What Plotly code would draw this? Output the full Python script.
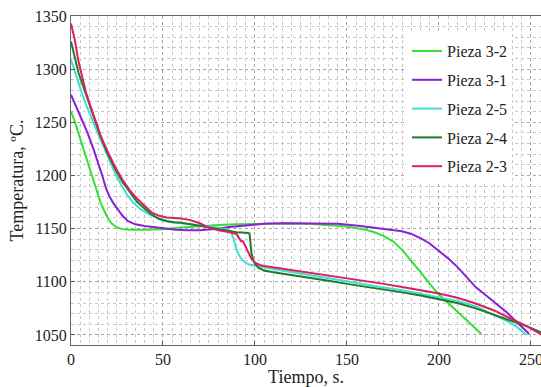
import plotly.graph_objects as go

# ---- data ----
names = ["Pieza 3-2", "Pieza 3-1", "Pieza 2-5", "Pieza 2-4", "Pieza 2-3"]
colors = ["#35e035", "#8a1fd8", "#3fe0cf", "#217a2a", "#dc1f5f"]

x_p32 = [0, 2, 4, 6, 8, 10, 12, 14, 16, 18, 20, 22, 25, 28, 32, 40, 50, 60, 70, 80, 90, 100, 110, 120, 130,
         140, 150, 160, 165, 170, 175, 180, 185, 190, 195, 200, 205, 210, 215, 220, 223]
y_p32 = [1260, 1251, 1240, 1229, 1218, 1206, 1195, 1185, 1175, 1167, 1160, 1155, 1151, 1149.5, 1149, 1149,
         1149.5, 1151, 1152.5, 1153.5, 1154, 1154.5, 1155, 1155, 1154.5, 1153.5, 1152, 1149, 1146.5, 1143,
         1138, 1130, 1120, 1109, 1098, 1088, 1080, 1072, 1064, 1056, 1051]

x_p31 = [0, 3, 6, 9, 12, 15, 17, 19, 21, 23, 25, 28, 31, 35, 40, 45, 50, 57, 63, 70, 78, 86, 95, 105, 115,
         125, 135, 145, 155, 165, 175, 180, 185, 190, 195, 200, 205, 210, 215, 220, 225, 230, 237, 243, 249]
y_p31 = [1276, 1264, 1253, 1240, 1226, 1211, 1200, 1188, 1180, 1174, 1169, 1162, 1157, 1154, 1152.5, 1151.5,
         1150, 1149, 1148.5, 1148.5, 1149.5, 1151.5, 1153, 1154.5, 1155, 1155, 1155, 1154.5, 1153, 1151, 1149,
         1147.5, 1145, 1141, 1136, 1129, 1122, 1114, 1104, 1095, 1088, 1081, 1071, 1061, 1051]

x_p25 = [0, 3, 6, 9, 12, 15, 18, 21, 24, 27, 30, 34, 38, 43, 48, 55, 62, 70, 78, 85, 87, 88.5, 90, 92, 94,
         96.5, 100, 103, 110, 120, 130, 140, 150, 160, 170, 180, 190, 200, 210, 220, 230, 237, 242, 245.5, 247.6]
y_p25 = [1309, 1292, 1277, 1263, 1250, 1238, 1226, 1214, 1202, 1192, 1183, 1174, 1168, 1163, 1159.5, 1156,
         1154.5, 1153, 1151.5, 1149, 1147, 1140, 1130, 1123, 1119, 1116.5, 1115, 1114, 1112, 1109, 1106, 1103,
         1100, 1097, 1094.5, 1092, 1088.5, 1085.5, 1082, 1077, 1069, 1063, 1058, 1053, 1050]

x_p24 = [0, 2, 4, 6, 8, 10, 13, 16, 20, 24, 28, 32, 36, 40, 44, 48, 52, 56, 60, 65, 70, 75, 80, 85, 90, 95,
         97, 97.5, 98, 99, 100, 102, 105, 110, 120, 130, 140, 150, 160, 170, 180, 190, 200, 210, 220, 230, 240,
         248, 256]
y_p24 = [1326, 1310, 1297, 1287, 1277, 1268, 1252, 1237, 1220, 1206, 1194, 1184, 1175, 1169, 1163, 1159, 1157,
         1156, 1155.5, 1154, 1152.5, 1150.5, 1149, 1147.5, 1146.5, 1146, 1145.5, 1138, 1128, 1121, 1117, 1113,
         1110.5, 1109, 1106.5, 1104, 1101, 1098, 1095.5, 1093, 1090, 1087, 1083.5, 1080, 1075, 1069, 1063,
         1058, 1052]

x_p23 = [0, 2, 4, 6, 8, 10, 13, 16, 20, 24, 28, 32, 36, 40, 44, 48, 52, 56, 60, 65, 70, 75, 80, 85, 88, 90,
         91, 92.5, 93.5, 95, 96.5, 98, 100, 103, 106, 110, 120, 130, 140, 150, 160, 170, 180, 190, 200, 210,
         220, 230, 240, 248, 256]
y_p23 = [1343, 1328, 1308, 1292, 1279, 1268, 1253, 1238, 1222, 1208, 1196, 1186, 1178, 1171, 1165, 1162,
         1160.5, 1160, 1159.5, 1158, 1155, 1151, 1148.5, 1147, 1146, 1145, 1142, 1138, 1138, 1133, 1128, 1122,
         1118, 1115.5, 1114.5, 1113.5, 1111, 1108.5, 1106, 1103, 1100.5, 1098, 1095, 1092, 1089, 1085,
         1079.5, 1073, 1065, 1058, 1050]

xs = [x_p32, x_p31, x_p25, x_p24, x_p23]
ys = [y_p32, y_p31, y_p25, y_p24, y_p23]

x_ticks = [0, 50, 100, 150, 200, 250]
y_ticks = [1050, 1100, 1150, 1200, 1250, 1300, 1350]

FONT = "Liberation Serif"

fig = go.Figure()
for i in range(len(names)):
    fig.add_trace(go.Scatter(x=xs[i], y=ys[i], mode="lines", name=names[i], legendgroup=names[i],
                             line=dict(color=colors[i], width=2)))

fig.update_layout(
    width=541, height=387,
    margin=dict(l=71, r=0, t=16, b=42),
    paper_bgcolor="white", plot_bgcolor="white",
    font=dict(family=FONT, size=16, color="#222"),
    showlegend=True,
    legend=dict(x=0.715, y=0.945, xanchor="left", yanchor="top", bgcolor="white", borderwidth=0,
                font=dict(family=FONT, size=16, color="#222"), tracegroupgap=5,
                itemwidth=30),
)
fig.update_xaxes(range=[0, 255.5], tickvals=x_ticks, ticks="inside", ticklen=4, tickcolor="#555",
                 showline=True, linecolor="#666", linewidth=1, mirror=True, automargin=False,
                 ticklabeloverflow="allow",
                 showgrid=True, gridcolor="#a8a8a8", griddash="dot", gridwidth=1, zeroline=False,
                 minor=dict(dtick=5, tick0=0, showgrid=True, gridcolor="#c8c8c8", griddash="dot", gridwidth=1),
                 title=dict(text="Tiempo, s.", font=dict(family=FONT, size=18, color="#222"), standoff=0),
                 tickfont=dict(family=FONT, size=16, color="#222"))
fig.update_yaxes(range=[1040.5, 1350], tickvals=y_ticks, ticks="inside", ticklen=4, tickcolor="#555",
                 showline=True, linecolor="#666", linewidth=1, mirror=False, automargin=False,
                 showgrid=True, gridcolor="#a8a8a8", griddash="dot", gridwidth=1, zeroline=False,
                 minor=dict(dtick=10, tick0=1050, showgrid=True, gridcolor="#c8c8c8", griddash="dot", gridwidth=1),
                 title=dict(text="Temperatura, ºC.", font=dict(family=FONT, size=18, color="#222"), standoff=6),
                 tickfont=dict(family=FONT, size=16, color="#222"))

fig.write_html("out.html", config={"displayModeBar": False},
               post_script="document.body.style.margin='0';document.body.style.overflow='hidden';")
